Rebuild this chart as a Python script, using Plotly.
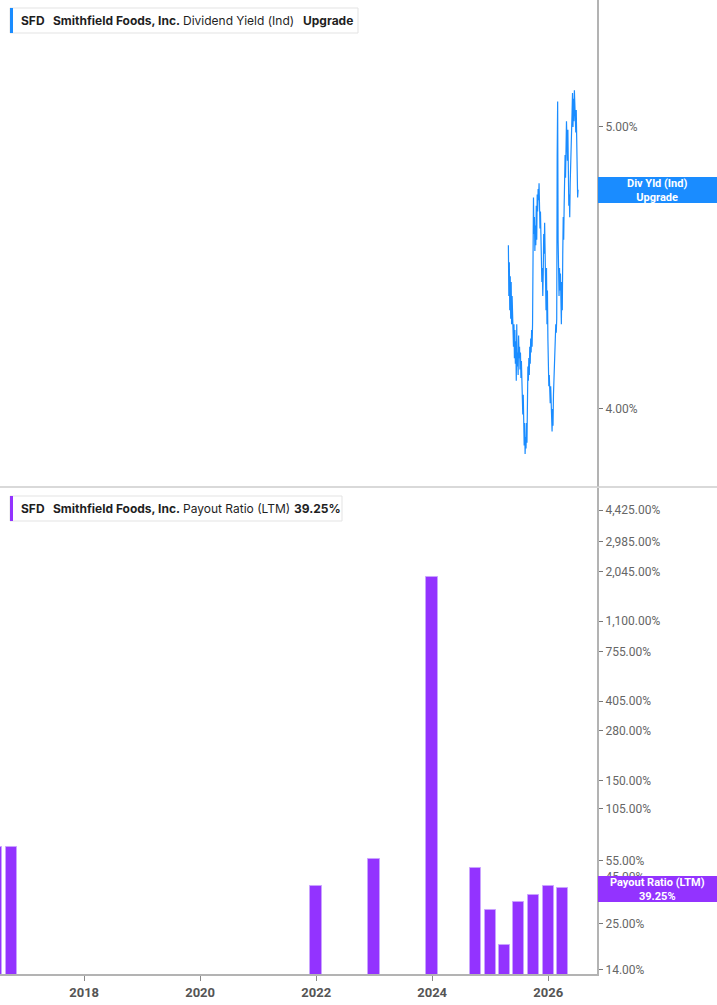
import plotly.graph_objects as go
from plotly.subplots import make_subplots
import pandas as pd

# ---------------- data ----------------
div_yield = [
    4.58, 4.40, 4.52, 4.35, 4.47, 4.32,
    4.45, 4.30, 4.40, 4.28,
    4.33, 4.22, 4.30, 4.18, 4.28, 4.16,
    4.24, 4.10, 4.30, 4.15, 4.20,
    4.12, 4.26, 4.18, 4.22, 4.14,
    4.20, 4.11, 4.17, 4.08,
    4.10, 3.98, 4.05, 3.92, 3.87, 3.95,
    3.84, 3.90, 3.86, 3.95, 3.88,
    4.05, 4.15, 4.10,
    4.18, 4.12, 4.22, 4.16,
    4.25, 4.20, 4.28, 4.22,
    4.30, 4.55, 4.75, 4.62,
    4.68, 4.56, 4.65,
    4.58, 4.72, 4.60, 4.76,
    4.70, 4.78, 4.74, 4.80,
    4.72, 4.64, 4.70, 4.60,
    4.55, 4.45, 4.50, 4.40,
    4.48, 4.62, 4.55, 4.66, 4.52,
    4.60, 4.35, 4.50,
    4.30, 4.42, 4.25,
    4.15, 4.08, 4.12,
    4.05, 4.02, 4.08, 3.98,
    3.96, 3.92, 4.00, 3.94,
    4.05, 4.12, 4.08, 4.16,
    4.25, 4.30, 4.27,
    4.32, 4.90, 5.09, 4.60, 4.45,
    4.40, 4.50, 4.42, 4.48,
    4.38, 4.30, 4.45, 4.35,
    4.55, 4.68, 4.60, 4.72,
    4.78, 4.90, 4.82, 4.95,
    5.02, 4.95, 4.88, 4.99,
    4.80, 4.72, 4.76, 4.68,
    4.80, 4.90, 4.85, 4.95,
    5.05, 5.12, 5.00,
    5.10, 5.02, 5.13, 5.04,
    5.08, 4.98, 5.06, 4.95,
    4.80, 4.75, 4.777,
]
yield_start = "2025-04-25"
yield_end = "2026-07-08"

payout_dates = ["2016-06-30", "2016-09-30", "2021-12-31", "2022-12-31", "2023-12-31",
                "2024-09-30", "2024-12-31", "2025-03-31", "2025-06-30", "2025-09-30",
                "2025-12-31", "2026-03-31"]
payout_ratio = [65.0, 65.0, 40.0, 56.0, 1914.0, 50.0, 29.7, 19.1, 32.8, 35.8, 40.1, 39.25]

payout_ticks = [14, 25, 45, 55, 105, 150, 280, 405, 755, 1100, 2045, 2985, 4425]
yield_ticks = [4.0, 5.0]

# ---------------- figure ----------------
W, H = 717, 1005
ML, MR, MT, MB = 0, 120, 0, 31
PW, PH = W - ML - MR, H - MT - MB


def px(x):
    return (x - ML) / PW


def py(y):
    return 1 - (y - MT) / PH


BLUE = "#1a8cff"
PURPLE = "#9333ff"

yield_dates = pd.date_range(yield_start, yield_end, periods=len(div_yield))

fig = make_subplots(rows=2, cols=1, shared_xaxes=True, vertical_spacing=0)

fig.add_trace(go.Scatter(x=yield_dates, y=div_yield, mode="lines",
                         line=dict(color=BLUE, width=1.2), showlegend=False),
              row=1, col=1)

fig.add_trace(go.Bar(x=pd.to_datetime(payout_dates), y=payout_ratio,
                     width=70 * 86400000,
                     marker=dict(color=PURPLE, line=dict(color="#c9a3ff", width=1)),
                     showlegend=False),
              row=2, col=1)

xrange = ["2016-07-20", "2026-11-04"]
tickfont = dict(family="Roboto", size=12, color="#666666")

fig.update_layout(
    width=W, height=H,
    margin=dict(l=ML, r=MR, t=MT, b=MB),
    plot_bgcolor="white", paper_bgcolor="white",
    bargap=0,
    xaxis=dict(domain=[0, 1], range=xrange, type="date", showgrid=False,
               showticklabels=False, showline=False, zeroline=False),
    xaxis2=dict(domain=[0, 1], range=xrange, type="date", showgrid=False,
                tick0="2018-01-01", dtick="M24", tickformat="%Y",
                ticks="outside", ticklen=5, tickcolor="#888888",
                tickfont=dict(family="Roboto", size=13, color="#555555", weight="bold"),
                showline=True, linecolor="#b3b3b3", linewidth=2, zeroline=False),
    yaxis=dict(domain=[0.5, 1], range=[3.723, 5.450], side="right", showgrid=False,
               tickvals=yield_ticks, ticktext=[f"{v:.2f}%" for v in yield_ticks],
               ticks="outside", ticklen=4, tickcolor="#777777", tickfont=tickfont,
               showline=True, linecolor="#b3b3b3", linewidth=2, zeroline=False),
    yaxis2=dict(domain=[0, 0.499], type="log", range=[1.124, 3.766], side="right",
                showgrid=False, tickvals=payout_ticks,
                ticktext=[f"{v:,.2f}%" for v in payout_ticks],
                ticks="outside", ticklen=4, tickcolor="#777777", tickfont=tickfont,
                showline=True, linecolor="#b3b3b3", linewidth=2, zeroline=False),
)

shapes = []
annotations = []

# separator between the panels
shapes.append(dict(type="line", xref="paper", yref="paper", x0=px(0), x1=px(717),
                   y0=py(487), y1=py(487), line=dict(color="#cccccc", width=1.5),
                   layer="above"))


def legend_box(x0, x1, yt, yb, color, pieces):
    shapes.append(dict(type="rect", xref="paper", yref="paper", x0=px(x0), x1=px(x1),
                       y0=py(yb), y1=py(yt), fillcolor="white",
                       line=dict(color="#e3e3e3", width=1), layer="above"))
    shapes.append(dict(type="rect", xref="paper", yref="paper", x0=px(x0), x1=px(x0 + 3),
                       y0=py(yb), y1=py(yt), fillcolor=color,
                       line=dict(width=0), layer="above"))
    ym = (yt + yb) / 2
    for xpos, txt, bold in pieces:
        annotations.append(dict(xref="paper", yref="paper", x=px(xpos), y=py(ym),
                                xanchor="left", yanchor="middle", showarrow=False,
                                text=f"<b>{txt}</b>" if bold else txt,
                                font=dict(family="Inter", size=12, color="#1f1f1f")))


legend_box(10, 358, 8, 33, BLUE, [
    (19, "SFD", True), (51, "Smithfield Foods, Inc.", True),
    (181, "Dividend Yield (Ind)", False), (301, "Upgrade", True)])
legend_box(10, 342, 496, 521, PURPLE, [
    (19, "SFD", True), (51, "Smithfield Foods, Inc.", True),
    (181, "Payout Ratio (LTM)", False), (292, "39.25%", True)])


def value_tag(yt, yb, color, text):
    shapes.append(dict(type="rect", xref="paper", yref="paper", x0=px(598), x1=px(717),
                       y0=py(yb), y1=py(yt), fillcolor=color, line=dict(width=0),
                       layer="above"))
    annotations.append(dict(xref="paper", yref="paper", x=px(657), y=py((yt + yb) / 2),
                            xanchor="center", yanchor="middle", showarrow=False,
                            text=text, align="center",
                            font=dict(family="Roboto", size=11, color="white")))


value_tag(177, 203, BLUE, "<b>Div Yld (Ind)</b><br><b>Upgrade</b>")
value_tag(876, 902, PURPLE, "<b>Payout Ratio (LTM)</b><br><b>39.25%</b>")

fig.update_layout(shapes=shapes, annotations=annotations)

fig.write_html("out.html")
